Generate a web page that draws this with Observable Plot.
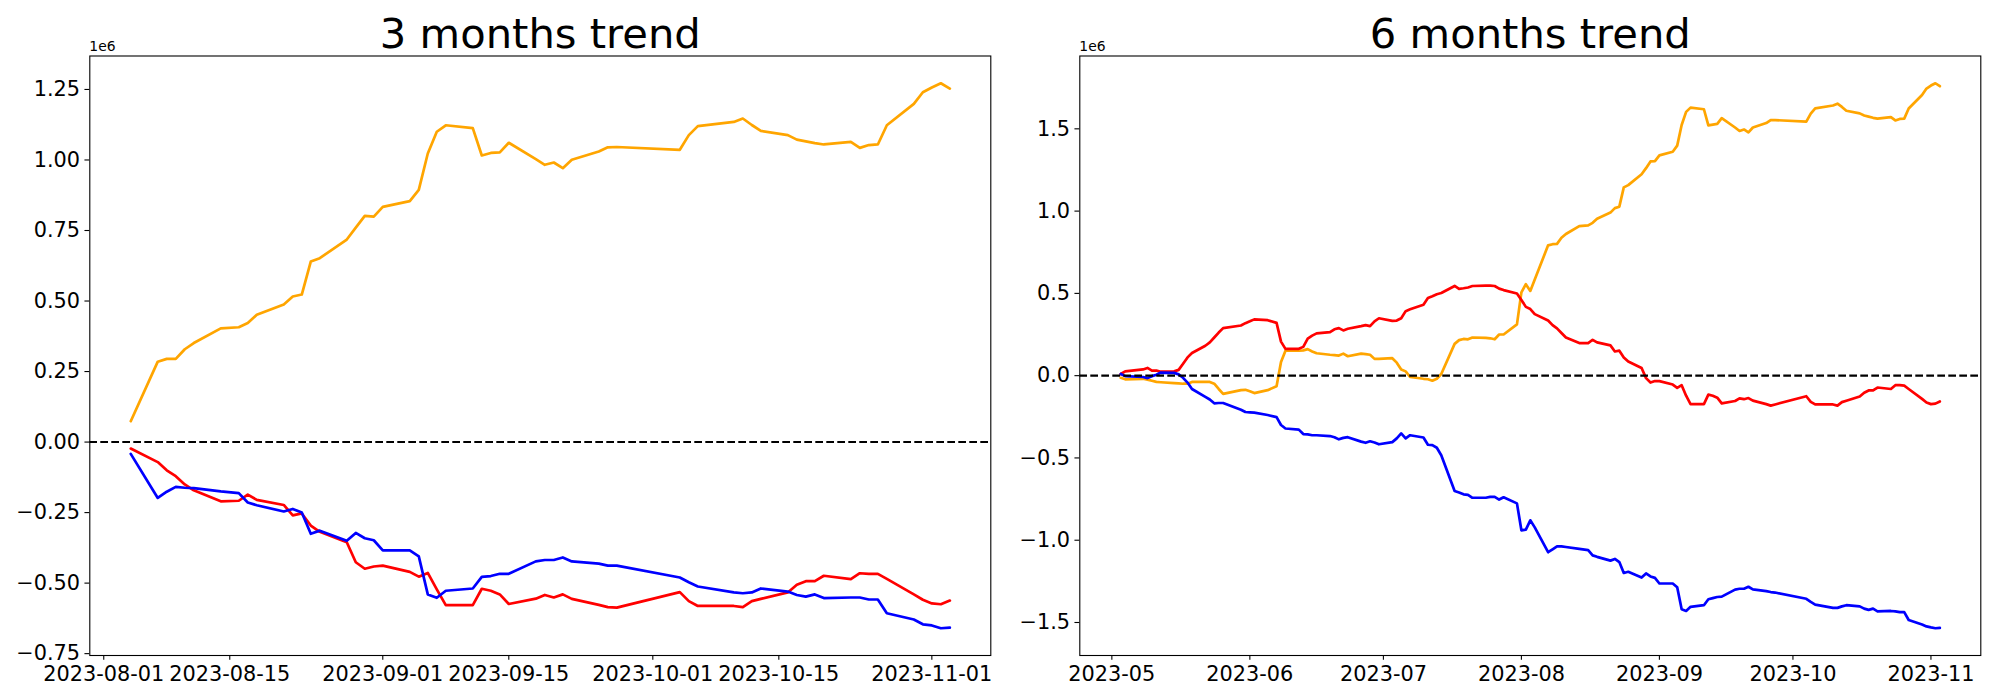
<!DOCTYPE html>
<html>
<head>
<meta charset="utf-8">
<script src="https://cdn.jsdelivr.net/npm/d3@7"></script>
<script src="https://cdn.jsdelivr.net/npm/@observablehq/plot@0.6"></script>
<style>
  html, body { margin: 0; padding: 0; background: #fff; }
  #wrap { display: flex; flex-direction: row; width: 2000px; height: 700px; }
  #wrap > div { width: 1000px; height: 700px; }
</style>
</head>
<body>
<div id="wrap"><div id="left"></div><div id="right"></div></div>
<script>
// ---------- DATA (values in units of 1e6) ----------
// Korean market closing days inside the charted period
const holidays = ["2023-05-05","2023-05-29","2023-06-06","2023-08-15","2023-09-28","2023-09-29","2023-10-02","2023-10-03","2023-10-09"];

// 3 months trend (trading days 2023-08-04 .. 2023-11-03)
const start3m = "2023-08-04", end3m = "2023-11-03";
const orange3m = [
  0.074,                                  // Aug 4
  0.285, 0.295, 0.295, 0.329, 0.351,      // Aug 7-11
  0.403,                                  // Aug 14
  0.407, 0.422, 0.451,                    // Aug 16-18
  0.488, 0.516, 0.523, 0.640, 0.652,      // Aug 21-25
  0.718, 0.760, 0.802, 0.799, 0.834,      // Aug 28-Sep 1
  0.854, 0.894, 1.023, 1.100, 1.123,      // Sep 4-8
  1.113, 1.016, 1.025, 1.027, 1.061,      // Sep 11-15
  1.003, 0.983, 0.991, 0.971, 1.001,      // Sep 18-22
  1.030, 1.045, 1.046,                    // Sep 25-27
  1.036, 1.088, 1.120,                    // Oct 4-6
  1.135, 1.147, 1.124, 1.103,             // Oct 10-13
  1.088, 1.072, 1.066, 1.060, 1.055,      // Oct 16-20
  1.064, 1.043, 1.053, 1.055, 1.123,      // Oct 23-27
  1.199, 1.240, 1.257, 1.272, 1.253       // Oct 30-Nov 3
];
const red3m = [
  -0.023,
  -0.071, -0.100, -0.121, -0.150, -0.171,
  -0.210,
  -0.208, -0.186, -0.205,
  -0.223, -0.260, -0.253, -0.296, -0.318,
  -0.355, -0.426, -0.449, -0.441, -0.438,
  -0.460, -0.477, -0.464, -0.522, -0.578,
  -0.578, -0.520, -0.527, -0.540, -0.574,
  -0.555, -0.542, -0.551, -0.540, -0.556,
  -0.577, -0.585, -0.587,
  -0.532, -0.564, -0.581,
  -0.581, -0.585, -0.564, -0.556,
  -0.533, -0.506, -0.493, -0.493, -0.474,
  -0.486, -0.465, -0.467, -0.467, -0.485,
  -0.540, -0.559, -0.572, -0.575, -0.562
];
const blue3m = [
  -0.042,
  -0.198, -0.176, -0.159, -0.162, -0.163,
  -0.175,
  -0.181, -0.214, -0.224,
  -0.246, -0.237, -0.250, -0.325, -0.314,
  -0.350, -0.322, -0.341, -0.348, -0.384,
  -0.384, -0.405, -0.540, -0.552, -0.527,
  -0.519, -0.478, -0.475, -0.467, -0.467,
  -0.423, -0.418, -0.418, -0.409, -0.423,
  -0.431, -0.438, -0.438,
  -0.480, -0.497, -0.512,
  -0.533, -0.536, -0.533, -0.519,
  -0.530, -0.542, -0.548, -0.540, -0.553,
  -0.551, -0.551, -0.558, -0.558, -0.607,
  -0.629, -0.646, -0.650, -0.660, -0.658
];

// 6 months trend (trading days 2023-05-03 .. 2023-11-03)
const start6m = "2023-05-03", end6m = "2023-11-03";
const orange6m = [
  -0.013, -0.022,                                 // May 3-4
  -0.019, -0.024, -0.031, -0.038, -0.040,         // May 8-12
  -0.045, -0.047, -0.049, -0.049, -0.038,         // May 15-19
  -0.038, -0.038, -0.049, -0.081, -0.111,         // May 22-26
  -0.088, -0.086,                                 // May 30-31
  -0.095, -0.106,                                 // Jun 1-2
  -0.088, -0.065, 0.083, 0.152,                   // Jun 5,7,8,9
  0.152, 0.154, 0.161, 0.147, 0.136,              // Jun 12-16
  0.127, 0.125, 0.122, 0.134, 0.118,              // Jun 19-23
  0.134, 0.131, 0.127, 0.102, 0.102,              // Jun 26-30
  0.106, 0.079, 0.038, 0.026, -0.008,             // Jul 3-7
  -0.019, -0.022, -0.031, -0.019, 0.010,          // Jul 10-14
  0.193, 0.216, 0.223, 0.221, 0.232,              // Jul 17-21
  0.230, 0.227, 0.221, 0.250, 0.250,              // Jul 24-28
  0.312, 0.506, 0.556, 0.515, 0.584,              // Jul 31-Aug 4
  0.792, 0.799, 0.801, 0.838, 0.861,              // Aug 7-11
  0.909, 0.913, 0.929, 0.954,                     // Aug 14,16-18
  0.991, 1.018, 1.027, 1.144, 1.158,              // Aug 21-25
  1.224, 1.261, 1.302, 1.304, 1.339,              // Aug 28-Sep 1
  1.361, 1.398, 1.523, 1.603, 1.629,              // Sep 4-8
  1.619, 1.521, 1.526, 1.530, 1.565,              // Sep 11-15
  1.508, 1.487, 1.496, 1.478, 1.508,              // Sep 18-22
  1.535, 1.553, 1.553,                            // Sep 25-27
  1.544, 1.592, 1.624,                            // Oct 4-6
  1.642, 1.653, 1.633, 1.610,                     // Oct 10-13
  1.594, 1.581, 1.574, 1.567, 1.562,              // Oct 16-20
  1.571, 1.551, 1.560, 1.562, 1.624,              // Oct 23-27
  1.706, 1.745, 1.763, 1.777, 1.759               // Oct 30-Nov 3
];
const red6m = [
  0.010, 0.026,
  0.038, 0.047, 0.031, 0.031, 0.024,
  0.026, 0.035, 0.072, 0.111, 0.138,
  0.182, 0.202, 0.232, 0.262, 0.289,
  0.305, 0.319,
  0.330, 0.342,
  0.337, 0.321, 0.207, 0.163,
  0.163, 0.175, 0.225, 0.243, 0.257,
  0.264, 0.282, 0.289, 0.275, 0.285,
  0.301, 0.307, 0.301, 0.330, 0.349,
  0.333, 0.335, 0.349, 0.392, 0.403,
  0.431, 0.472, 0.483, 0.495, 0.502,
  0.545, 0.527, 0.531, 0.536, 0.545,
  0.547, 0.547, 0.545, 0.529, 0.520,
  0.499, 0.460, 0.418, 0.405, 0.374,
  0.335, 0.307, 0.287, 0.259, 0.232,
  0.198, 0.198, 0.218, 0.202,
  0.184, 0.147, 0.152, 0.111, 0.086,
  0.047, -0.015, -0.042, -0.033, -0.033,
  -0.054, -0.074, -0.058, -0.122, -0.173,
  -0.173, -0.115, -0.122, -0.134, -0.168,
  -0.154, -0.138, -0.143, -0.136, -0.152,
  -0.173, -0.182, -0.175,
  -0.125, -0.159, -0.175,
  -0.175, -0.182, -0.161, -0.152,
  -0.127, -0.104, -0.090, -0.090, -0.072,
  -0.081, -0.058, -0.058, -0.061, -0.081,
  -0.141, -0.163, -0.173, -0.170, -0.157
];
const blue6m = [
  0.010, -0.003,
  -0.008, -0.015, -0.003, 0.006, 0.019,
  0.017, 0.008, -0.013, -0.042, -0.081,
  -0.129, -0.145, -0.168, -0.166, -0.166,
  -0.207, -0.221,
  -0.223, -0.225,
  -0.239, -0.252, -0.300, -0.321,
  -0.328, -0.355, -0.357, -0.362, -0.362,
  -0.367, -0.374, -0.387, -0.378, -0.374,
  -0.401, -0.408, -0.399, -0.406, -0.417,
  -0.404, -0.381, -0.351, -0.381, -0.362,
  -0.376, -0.420, -0.422, -0.438, -0.484,
  -0.701, -0.710, -0.721, -0.724, -0.742,
  -0.742, -0.737, -0.737, -0.753, -0.739,
  -0.776, -0.940, -0.936, -0.879, -0.922,
  -1.073, -1.055, -1.037, -1.037, -1.041,
  -1.053, -1.060, -1.092, -1.101,
  -1.124, -1.114, -1.133, -1.199, -1.192,
  -1.227, -1.202, -1.220, -1.229, -1.263,
  -1.263, -1.286, -1.420, -1.430, -1.405,
  -1.395, -1.359, -1.352, -1.345, -1.343,
  -1.300, -1.295, -1.295, -1.283, -1.299,
  -1.309, -1.315, -1.318,
  -1.356, -1.375, -1.391,
  -1.411, -1.411, -1.402, -1.395,
  -1.402, -1.416, -1.423, -1.416, -1.432,
  -1.430, -1.432, -1.437, -1.437, -1.485,
  -1.512, -1.524, -1.530, -1.535, -1.533
];

const seriesColors = ["orange", "red", "blue"];
const ticks3m = ["2023-08-01","2023-08-15","2023-09-01","2023-09-15","2023-10-01","2023-10-15","2023-11-01"];
const ticks6m = ["2023-05-01","2023-06-01","2023-07-01","2023-08-01","2023-09-01","2023-10-01","2023-11-01"];
const yTicks3m = [-0.75, -0.5, -0.25, 0, 0.25, 0.5, 0.75, 1.0, 1.25];
const yTicks6m = [-1.5, -1.0, -0.5, 0, 0.5, 1.0, 1.5];

// ---------- helpers ----------
function tradingDays(start, end) {
  const out = [];
  const hol = new Set(holidays);
  for (let d = new Date(start + "T00:00:00Z"); d <= new Date(end + "T00:00:00Z"); d = new Date(+d + 864e5)) {
    const wd = d.getUTCDay();
    const s = d.toISOString().slice(0, 10);
    if (wd !== 0 && wd !== 6 && !hol.has(s)) out.push(new Date(+d));
  }
  return out;
}

function panel({dates, series, xTicks, xFmt, yTicks, yFmt, title, marginLeft, marginRight}) {
  const all = series.flat();
  const ymin = d3.min(all), ymax = d3.max(all), yr = ymax - ymin;
  const t0 = +dates[0], t1 = +dates[dates.length - 1], tr = t1 - t0;
  const marks = [
    Plot.frame({stroke: "black", strokeWidth: 1.1}),
    Plot.axisX({ticks: xTicks.map(s => new Date(s + "T00:00:00Z")), tickFormat: d3.utcFormat(xFmt),
      fontSize: 20.83, tickSize: 4.86, tickPadding: 6.3, strokeWidth: 1.1, label: null}),
    Plot.axisY({ticks: yTicks, tickFormat: d3.format(yFmt),
      fontSize: 20.83, tickSize: 4.86, tickPadding: 4.86, strokeWidth: 1.1, label: null})
  ];
  series.forEach((vals, i) => {
    const rows = dates.map((d, j) => ({date: d, value: vals[j]}));
    marks.push(Plot.line(rows, {x: "date", y: "value", stroke: seriesColors[i], strokeWidth: 2.7, strokeLinejoin: "round"}));
  });
  marks.push(Plot.ruleY([0], {stroke: "black", strokeWidth: 2.08, strokeDasharray: "7.7,3.3"}));
  marks.push(Plot.text([title], {frameAnchor: "top", lineAnchor: "middle", dy: -21.8, fontSize: 41.67, fill: "black"}));
  marks.push(Plot.text(["1e6"], {frameAnchor: "top-left", textAnchor: "start", lineAnchor: "middle", dy: -9, dx: -0.5, fontSize: 13.9, fill: "black"}));
  return Plot.plot({
    width: 1000, height: 700,
    marginLeft, marginRight, marginTop: 55.5, marginBottom: 45,
    x: {type: "utc", domain: [new Date(t0 - 0.05 * tr), new Date(t1 + 0.05 * tr)]},
    y: {domain: [ymin - 0.05 * yr, ymax + 0.05 * yr]},
    style: {fontFamily: "'DejaVu Sans', sans-serif", color: "black", background: "white", overflow: "visible"},
    marks
  });
}

document.getElementById("left").append(panel({
  dates: tradingDays(start3m, end3m),
  series: [orange3m, red3m, blue3m],
  xTicks: ticks3m, xFmt: "%Y-%m-%d",
  yTicks: yTicks3m, yFmt: ".2f",
  title: "3 months trend",
  marginLeft: 89.3, marginRight: 9.7
}));
document.getElementById("right").append(panel({
  dates: tradingDays(start6m, end6m),
  series: [orange6m, red6m, blue6m],
  xTicks: ticks6m, xFmt: "%Y-%m",
  yTicks: yTicks6m, yFmt: ".1f",
  title: "6 months trend",
  marginLeft: 79.3, marginRight: 19.7
}));
</script>
</body>
</html>
